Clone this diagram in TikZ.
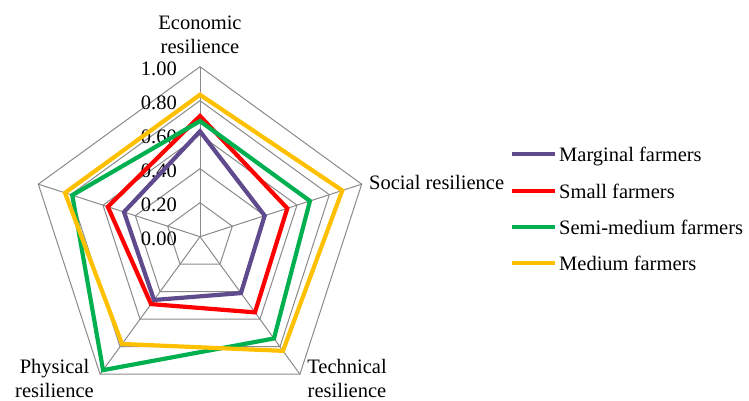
\documentclass[tikz,border=0pt]{standalone}
\usepackage{fontspec}
\setmainfont{Liberation Serif}
\definecolor{gridgray}{HTML}{8A8A8A}
\definecolor{marginal}{HTML}{5E4A8C}
\definecolor{small}{HTML}{FF0000}
\definecolor{semimedium}{HTML}{00B050}
\definecolor{medium}{HTML}{FFC000}
\begin{document}
\begin{tikzpicture}[x=1pt,y=1pt,
    grid/.style={draw=gridgray, line width=1pt},
    series/.style={line width=4.2pt, line join=miter},
    lbl/.style={font=\fontsize{20.5}{24}\selectfont, inner sep=0pt}]
    \useasboundingbox (0,0) rectangle (749,400);
    \def\R{170}; \def\cx{200}; \def\cy{163.3};

    \coordinate (O) at (\cx,\cy);
    \coordinate (Eco) at ([shift={(O)}]90:\R); \coordinate (Soc) at ([shift={(O)}]18:\R);
    \coordinate (Tec) at ([shift={(O)}]-54:\R); \coordinate (Phy) at ([shift={(O)}]-126:\R);
    \coordinate (Env) at ([shift={(O)}]162:\R);

    % rings and spokes
    \foreach \r in {0.2,0.4,0.6,0.8,1.0} {
      \draw[grid, shift={(O)}] (90:{\r*\R}) -- (18:{\r*\R}) -- (-54:{\r*\R})
        -- (-126:{\r*\R}) -- (162:{\r*\R}) -- cycle;
    }
    \draw[grid] (O) -- (Eco); \draw[grid] (O) -- (Soc); \draw[grid] (O) -- (Tec);
    \draw[grid] (O) -- (Phy); \draw[grid] (O) -- (Env);

    % tick labels
    \foreach \v/\t in {0/0.00, 0.2/0.20, 0.4/0.40, 0.6/0.60, 0.8/0.80, 1/1.00} {
      \node[lbl, anchor=base east] (tick\t) at (177,{\cy+\v*\R-8.3}) {\t};
    }

    % axis labels
    \node[lbl, align=center, anchor=south] (ecolbl) at (200,346.5) {Economic\\resilience};
    \node[lbl, anchor=base west] (soclbl) at (369,210.7) {Social resilience};
    \node[lbl, align=center, anchor=south] (teclbl) at (347,2.5) {Technical\\resilience};
    \node[lbl, align=center, anchor=south] (phylbl) at (54.5,2.5) {Physical\\resilience};

    % series
    \draw[series, marginal, shift={(O)}] (90:{0.62*\R}) -- (18:{0.40*\R}) -- (-54:{0.41*\R})
      -- (-126:{0.46*\R}) -- (162:{0.47*\R}) -- cycle;
    \draw[series, small, shift={(O)}] (90:{0.71*\R}) -- (18:{0.54*\R}) -- (-54:{0.55*\R})
      -- (-126:{0.49*\R}) -- (162:{0.57*\R}) -- cycle;
    \draw[series, semimedium, shift={(O)}] (90:{0.68*\R}) -- (18:{0.68*\R}) -- (-54:{0.74*\R})
      -- (-126:{0.97*\R}) -- (162:{0.79*\R}) -- cycle;
    \draw[series, medium, shift={(O)}] (90:{0.835*\R}) -- (18:{0.88*\R}) -- (-54:{0.83*\R})
      -- (-126:{0.78*\R}) -- (162:{0.835*\R}) -- cycle;

    % legend
    \foreach \y/\c/\t/\n in {245.7/marginal/Marginal farmers/mar, 209/small/Small farmers/sma,
        173.3/semimedium/Semi-medium farmers/sem, 136.7/medium/Medium farmers/med} {
      \coordinate (\n a) at (512,\y); \coordinate (\n b) at (555,\y);
      \draw[\c, line width=4.2pt] (\n a) -- (\n b);
      \node[lbl, anchor=base west] (\n lbl) at (559,\y-7.5) {\t};
    }
  \end{tikzpicture}
\end{document}
